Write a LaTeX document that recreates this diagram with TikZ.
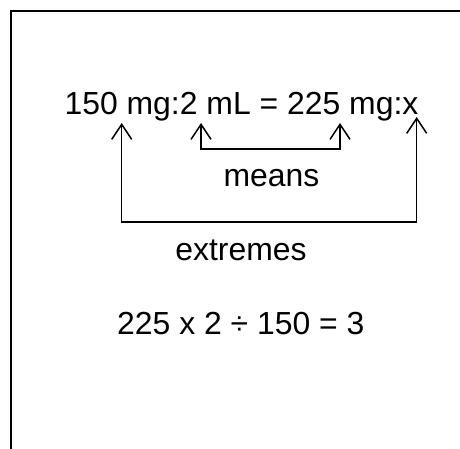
\documentclass[tikz,border=0pt]{standalone}
\usepackage{fontspec}
\setmainfont{Liberation Sans}
\usetikzlibrary{arrows.meta}
\begin{document}
\begin{tikzpicture}[x=1pt,y=-1pt,
  frame/.style={line width=2.2pt},
  arr/.style={line width=1.5pt,{Straight Barb[length=15pt,width=20pt,line width=1.5pt]}-{Straight Barb[length=15pt,width=20pt,line width=1.5pt]}},
  txt/.style={inner sep=0pt,anchor=base,font=\fontsize{31.9pt}{38pt}\selectfont}]
\useasboundingbox (0,0) rectangle (460,449);
\draw[frame] (11,449) -- (11,11) -- (461,11);
\node[txt] (eq) at (241.5,115) {150 mg:2 mL = 225 mg:x};
\node[txt] (means) at (271.5,186.5) {means};
\node[txt] (extremes) at (241,260.5) {extremes};
\node[txt] (calc) at (240.8,334) {225 x 2 \char"00F7\ 150 = 3};
\coordinate (t1) at (121.7,123);
\coordinate (t2) at (201,123);
\coordinate (t3) at (340,123);
\coordinate (t4) at (416.7,117);
\coordinate (b1) at (121.7,222);
\coordinate (b4) at (416.7,222);
\coordinate (b2) at (201,149);
\coordinate (b3) at (340,149);
\draw[arr] (t1) -- (b1) -- (b4) -- (t4);
\draw[arr] (t2) -- (b2) -- (b3) -- (t3);
\end{tikzpicture}
\end{document}
